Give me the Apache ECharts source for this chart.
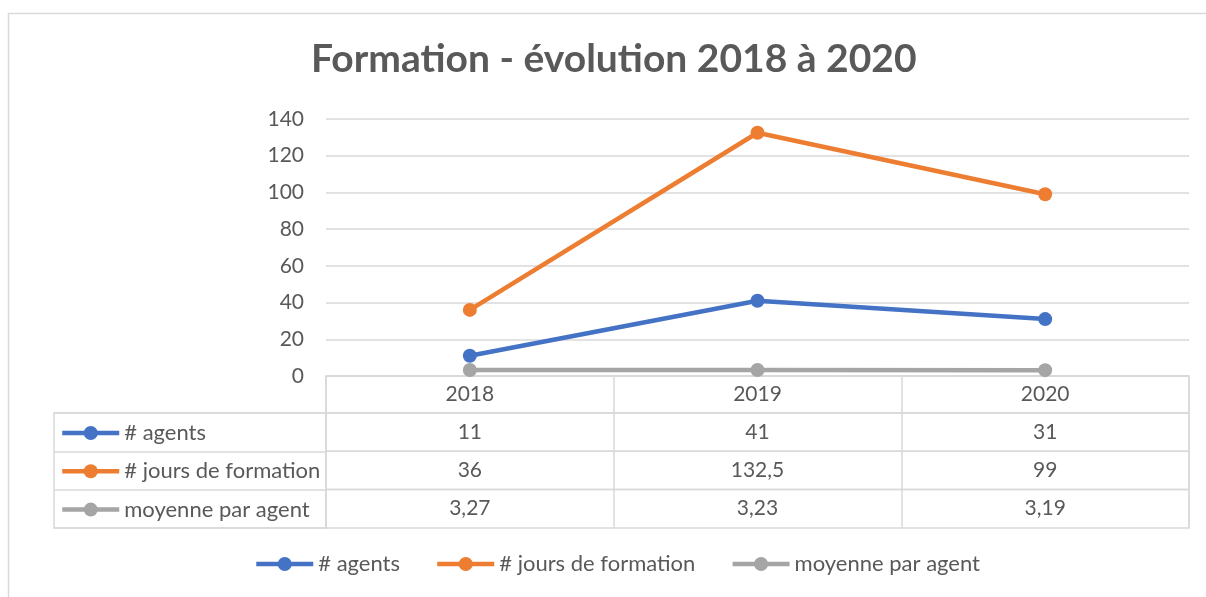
<!DOCTYPE html>
<html lang="fr">
<head>
<meta charset="utf-8"/>
<script src="https://cdn.jsdelivr.net/npm/echarts@6/dist/echarts.min.js"></script>
<title>Formation</title>
<style>
    html, body { margin: 0; padding: 0; background: #fff; }
    #main { width: 1206px; height: 597px; }
</style>
</head>
<body>
<div id="main"></div>
<script type="text/javascript">
    // data
    var years = ['2018', '2019', '2020'];
    var seriesNames = ['# agents', '# jours de formation', 'moyenne par agent'];
    var agents = [11, 41, 31];
    var jours = [36, 132.5, 99];
    var moyenne = [3.27, 3.23, 3.19];
    var yTicks = [0, 20, 40, 60, 80, 100, 120, 140];

    var colors = ['#4472C4', '#ED7D31', '#A5A5A5'];
    var values = [agents, jours, moyenne];
    var textColor = '#595959';
    var lineColor = '#D9D9D9';
    var font = 'Lato';

    // layout of plot + data table
    var plotLeft = 326, plotRight = 17;
    var headerTop = 376, headerH = 37;
    var rowTop = 413, rowH = 38.3;
    var tableLeft = 54;

    function fmt(v) { return String(v).replace('.', ','); }

    var myChart = echarts.init(document.getElementById('main'));

    var grids = [
        {left: plotLeft, right: plotRight, top: 119, height: headerTop - 119},
        {left: plotLeft, right: plotRight, top: headerTop, height: headerH,
            show: true, borderColor: lineColor, borderWidth: 1.5}
    ];
    var xAxes = [
        {type: 'category', gridIndex: 0, data: years, boundaryGap: true,
            axisLine: {lineStyle: {color: lineColor, width: 1.5}},
            axisTick: {show: false}, axisLabel: {show: false}},
        {type: 'category', gridIndex: 1, data: years, boundaryGap: true,
            axisLine: {show: false}, axisTick: {show: false},
            axisLabel: {inside: true, margin: 8, color: textColor, fontSize: 21, fontFamily: font, lineHeight: 21},
            splitLine: {show: true, lineStyle: {color: lineColor, width: 1.5}}}
    ];
    var yAxes = [
        {type: 'value', gridIndex: 0, min: yTicks[0], max: yTicks[yTicks.length - 1],
            interval: yTicks[1] - yTicks[0],
            axisLine: {show: false}, axisTick: {show: false},
            axisLabel: {margin: 22, color: textColor, fontSize: 21, fontFamily: font},
            splitLine: {lineStyle: {color: lineColor, width: 1.5}}},
        {type: 'value', gridIndex: 1, show: false}
    ];

    var series = [];
    var legends = [];
    seriesNames.forEach(function (name, i) {
        var gi = grids.length;
        grids.push({left: plotLeft, right: plotRight, top: rowTop + rowH * i, height: rowH,
            show: true, borderColor: lineColor, borderWidth: 1.5});
        xAxes.push({type: 'category', gridIndex: gi, data: values[i].map(fmt), boundaryGap: true,
            axisLine: {show: false}, axisTick: {show: false},
            axisLabel: {inside: true, margin: 9, color: textColor, fontSize: 21, fontFamily: font, lineHeight: 21},
            splitLine: {show: true, lineStyle: {color: lineColor, width: 1.5}}});
        yAxes.push({type: 'value', gridIndex: gi, show: false});

        series.push({
            name: name,
            type: 'line',
            xAxisIndex: 0,
            yAxisIndex: 0,
            data: values[i],
            symbol: 'circle',
            symbolSize: 14,
            color: colors[i],
            lineStyle: {width: 4.5, color: colors[i]},
            itemStyle: {color: colors[i]},
            emphasis: {disabled: true}
        });

        // legend key inside the table's first column
        legends.push({
            data: [name],
            left: tableLeft + 1,
            top: rowTop + rowH * i + 4,
            itemWidth: 57,
            itemHeight: 17.5,
            selectedMode: false,
            textStyle: {color: textColor, fontSize: 22, fontFamily: font, lineHeight: 20},
            lineStyle: {width: 4.5}
        });
    });

    // first column of the table (series names)
    var li = grids.length;
    grids.push({left: tableLeft, width: plotLeft - tableLeft, top: rowTop, height: rowH * 3,
        show: true, borderColor: lineColor, borderWidth: 1.5});
    xAxes.push({type: 'value', gridIndex: li, show: false});
    yAxes.push({type: 'category', gridIndex: li, data: seriesNames, inverse: true,
        axisLine: {show: false}, axisTick: {show: false}, axisLabel: {show: false},
        splitLine: {show: true, lineStyle: {color: lineColor, width: 1.5}}});

    // bottom legend
    legends.push({
        data: seriesNames,
        left: 249,
        top: 548,
        itemWidth: 57,
        itemHeight: 17.5,
        itemGap: 35,
        selectedMode: false,
        textStyle: {color: textColor, fontSize: 22, fontFamily: font, lineHeight: 20},
        lineStyle: {width: 4.5}
    });

    var option = {
        animation: false,
        backgroundColor: '#fff',
        title: {
            text: 'Formation - évolution 2018 à 2020',
            left: 306,
            top: 35,
            textStyle: {color: textColor, fontSize: 39, fontWeight: 'bold', fontFamily: font}
        },
        graphic: [{
            type: 'rect',
            shape: {x: 8.5, y: 13.5, width: 1400, height: 800},
            style: {fill: 'none', stroke: lineColor, lineWidth: 1.5},
            silent: true
        }],
        legend: legends,
        grid: grids,
        xAxis: xAxes,
        yAxis: yAxes,
        series: series
    };
    myChart.setOption(option);

    window.onresize = function () { myChart.resize(); };
</script>
</body>
</html>
